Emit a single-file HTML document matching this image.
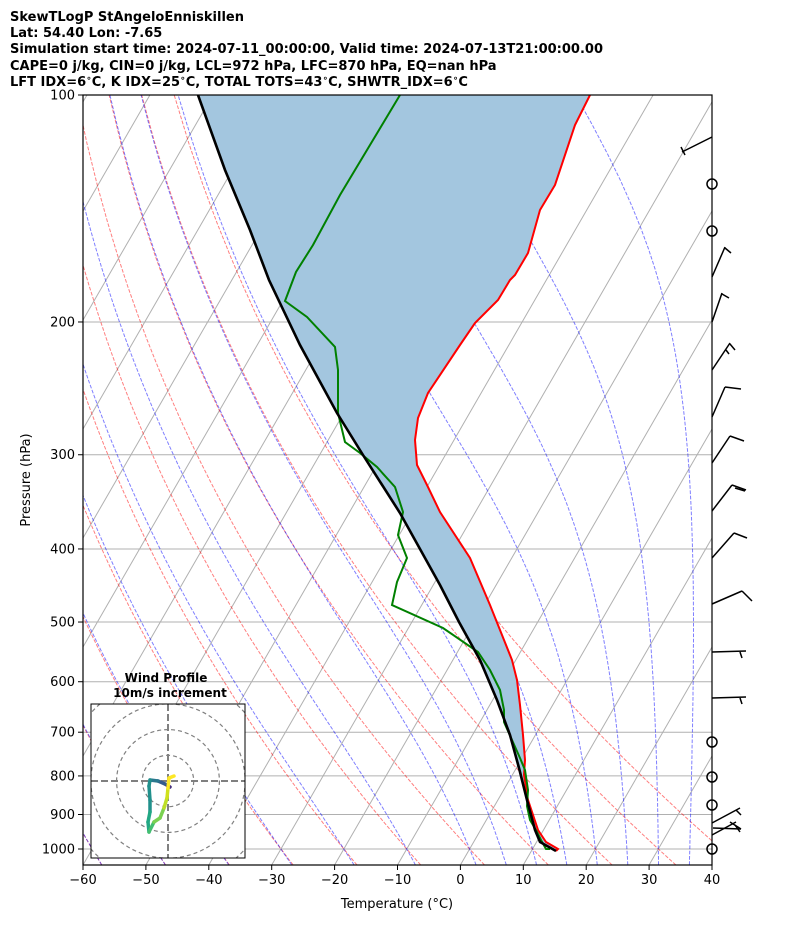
<!DOCTYPE html>
<html><head><meta charset="utf-8"><style>
body{margin:0;background:#fff;width:794px;height:937px;overflow:hidden}
svg{display:block;font-family:"DejaVu Sans","Liberation Sans",sans-serif}
</style></head><body>
<svg id="s" width="794" height="937" xmlns="http://www.w3.org/2000/svg">
<defs><clipPath id="c"><rect x="83" y="95" width="629" height="770"/></clipPath>
<clipPath id="h"><rect x="91" y="704" width="154" height="154"/></clipPath></defs>
<g id="bg" clip-path="url(#c)"></g>
<g font-size="13" font-weight="bold" fill="#000">
<text x="10" y="21">SkewTLogP StAngeloEnniskillen</text>
<text x="10" y="37">Lat: 54.40   Lon: -7.65</text>
<text x="10" y="53">Simulation start time: 2024-07-11_00:00:00, Valid time: 2024-07-13T21:00:00.00</text>
<text x="10" y="70">CAPE=0 j/kg, CIN=0 j/kg, LCL=972 hPa, LFC=870 hPa, EQ=nan hPa</text>
<text x="10" y="86">LFT IDX=6<tspan font-size="9" dy="-5">∘</tspan><tspan dy="5">C, K IDX=25</tspan><tspan font-size="9" dy="-5">∘</tspan><tspan dy="5">C, TOTAL TOTS=43</tspan><tspan font-size="9" dy="-5">∘</tspan><tspan dy="5">C, SHWTR_IDX=6</tspan><tspan font-size="9" dy="-5">∘</tspan><tspan dy="5">C</tspan></text>
</g>
<g id="ax" font-size="13" fill="#000"></g>
</svg>
<script>
var S=document.getElementById('s'),BG=document.getElementById('bg'),AX=document.getElementById('ax');
var NS='http://www.w3.org/2000/svg';
function el(n,a,p){var e=document.createElementNS(NS,n);for(var k in a)e.setAttribute(k,a[k]);(p||BG).appendChild(e);return e;}
var K=0.577,PX=6.29;
function Y(p){return 849+754*Math.log10(p/1000);}
function X(T,y){return 83+(T+60)*PX+(865-y)*K;}
function poly(pts,st,par){return el('polyline',Object.assign({points:pts.map(function(q){return q[0].toFixed(1)+','+q[1].toFixed(1)}).join(' '),fill:'none'},st),par);}
for(var p=100;p<=1000;p+=100){el('line',{x1:83,x2:712,y1:Y(p),y2:Y(p),stroke:'#b0b0b0','stroke-width':1});}
for(var T=-200;T<=40;T+=10){poly([[X(T,865),865],[X(T,95),95]],{stroke:'#b0b0b0','stroke-width':1});}
for(var T0=-60;T0<=40;T0+=10){var pts=[];for(var i=0;i<=60;i++){var pp=1050-i*(950/60);var t=(T0+273.15)*Math.pow(pp/1000,0.2857)-273.15;var y=Y(pp);pts.push([X(t,y),y]);}poly(pts,{stroke:'#ff0000','stroke-opacity':0.5,'stroke-width':1,'stroke-dasharray':'3.7,1.6'});}
function es(Tc){return 6.112*Math.exp(17.67*Tc/(Tc+243.5));}
function mlr(p,T){var Tc=T-273.15;var e=es(Tc);var rs=0.622*e/(p-e);var Lv=2.501e6,Rd=287.04,Cp=1005.7;return (Rd*T+Lv*rs)/(Cp+Lv*Lv*rs*0.622/(Rd*T*T))/p;}
var m0=[-60,-50,-40,-30,-20,-10,0,5,10,15,20,25,30,35,40];
m0.forEach(function(T0){
 // downward to 1050
 var T=T0+273.15,pp=1000,dp=1;for(var i=0;i<50;i++){var k1=mlr(pp,T),k2=mlr(pp+dp/2,T+k1*dp/2);T+=k2*dp;pp+=dp;}
 var pts=[[X(T-273.15,Y(1050)),Y(1050)]];
 var n=380,dp2=950/n;for(var i=0;i<n;i++){var k1=mlr(pp,T),k2=mlr(pp-dp2/2,T-k1*dp2/2);T-=k2*dp2;pp-=dp2;if(i%4==3||i==n-1){var y=Y(pp);pts.push([X(T-273.15,y),y]);}}
 poly(pts,{stroke:'#0000ff','stroke-opacity':0.5,'stroke-width':1,'stroke-dasharray':'3.7,1.6'});});
var red=[[590,95],[575,125],[555,185],[540,210],[528,253],[515,275],[510,280],[498,300],[475,323],[460,345],[428,393],[418,418],[415,440],[417,465],[427,485],[440,512],[470,558],[490,605],[512,660],[517,680],[520,705],[523,735],[525,760],[524,775],[528,800],[533,815],[538,830],[546,842],[558,849],[556,851]];
var par=[[198,95],[225,170],[250,230],[269,280],[300,345],[337,413],[363,455],[400,513],[420,549],[440,585],[459,622],[480,660],[497,700],[510,735],[519,768],[527,800],[535,830],[540,842],[556,851]];
var grn=[[400,95],[370,145],[340,195],[313,245],[296,272],[285,301],[307,317],[335,347],[338,370],[338,413],[345,442],[360,453],[377,467],[395,487],[403,512],[398,535],[407,558],[397,582],[392,605],[443,628],[478,652],[490,670],[500,690],[504,710],[504,722],[512,740],[520,758],[525,770],[528,790],[527,806],[530,820],[536,830],[541,840],[546,849],[550,849]];
el('polygon',{points:par.concat(red.slice().reverse()).map(function(q){return q.join(',')}).join(' '),fill:'#a3c6df'});
poly(red,{stroke:'#ff0000','stroke-width':2});
poly(grn,{stroke:'#008000','stroke-width':2});
poly(par,{stroke:'#000','stroke-width':2.6});
el('rect',{x:83,y:95,width:629,height:770,fill:'none',stroke:'#000','stroke-width':1.2},AX);
for(var i=0;i<=10;i++){var x=83+i*62.9;el('line',{x1:x,x2:x,y1:865,y2:870,stroke:'#000'},AX);var t=el('text',{x:x,y:884,'text-anchor':'middle'},AX);t.textContent=(-60+i*10).toString().replace('-','\u2212');}
for(var p=100;p<=1000;p+=100){var y=Y(p);el('line',{x1:78,x2:83,y1:y,y2:y,stroke:'#000'},AX);var t=el('text',{x:75,y:y+4.5,'text-anchor':'end'},AX);t.textContent=p;}
var t=el('text',{x:397,y:908,'text-anchor':'middle'},AX);t.textContent='Temperature (\u00B0C)';
var t=el('text',{x:30,y:480,'text-anchor':'middle',transform:'rotate(-90 30 480)'},AX);t.textContent='Pressure (hPa)';
var B=[[[712,137,682,152],[681,147,685,155]],[[712,277,725,247],[725,248,731,253]],[[712,322,722,293],[722,294,729,298]],[[712,370,730,343],[730,344,735,350],[726,350,729,354]],[[712,417,725,387],[725,387,741,389]],[[712,463,730,436],[730,436,744,441]],[[712,511,732,485],[732,485,746,490],[735,488,745,491]],[[712,558,734,533],[734,533,747,538]],[[712,604,742,591],[742,591,752,601]],[[712,652,746,651],[740,652,742,658]],[[712,698,746,697],[740,698,742,704]],[[712,823,740,808],[736,810,741,815]],[[712,835,736,822],[730,822,741,829]],[[713,828,741,829],[735,825,740,832]]];
B.forEach(function(b){b.forEach(function(l){el('line',{x1:l[0],y1:l[1],x2:l[2],y2:l[3],stroke:'#000','stroke-width':1.5},AX);});});
[184,231,742,777,805,849].forEach(function(y){el('circle',{cx:712,cy:y,r:5,fill:'none',stroke:'#000','stroke-width':1.5},AX);});
var H=el('g',{},AX);
el('rect',{x:91,y:704,width:154,height:154,fill:'#fff',stroke:'none'},H);
var HG=el('g',{'clip-path':'url(#h)'},H);
[25.7,51.4,77.1,102.8].forEach(function(r){el('circle',{cx:168,cy:781,r:r,fill:'none',stroke:'#808080','stroke-width':1.2,'stroke-dasharray':'4,3'},HG);});
el('line',{x1:91,x2:245,y1:781,y2:781,stroke:'#808080','stroke-width':2,'stroke-dasharray':'7,3'},HG);
el('line',{x1:168,x2:168,y1:704,y2:858,stroke:'#808080','stroke-width':2,'stroke-dasharray':'7,3'},HG);
var hp=[[170,787,'#440154'],[165,784,'#46317e'],[158,781,'#365b8c'],[150,780,'#2a788e'],[149,786,'#21908c'],[150,800,'#21908c'],[150,812,'#21908c'],[148,822,'#22a884'],[149,832,'#22a884'],[154,822,'#44bf70'],[160,818,'#7ad151'],[164,808,'#7ad151'],[167,798,'#bddf26'],[168,788,'#d0e11c'],[169,778,'#fde725'],[174,776,'#fde725']];
for(var i=1;i<hp.length;i++)el('line',{x1:hp[i-1][0],y1:hp[i-1][1],x2:hp[i][0],y2:hp[i][1],stroke:hp[i][2],'stroke-width':3.5,'stroke-linecap':'round'},HG);
el('rect',{x:91,y:704,width:154,height:154,fill:'none',stroke:'#000','stroke-width':1},H);
var t=el('text',{x:166,y:682,'text-anchor':'middle','font-size':'12','font-weight':'bold'},H);t.textContent='Wind Profile';
var t=el('text',{x:170,y:697,'text-anchor':'middle','font-size':'12','font-weight':'bold'},H);t.textContent='10m/s increment';
</script>
</body></html>
